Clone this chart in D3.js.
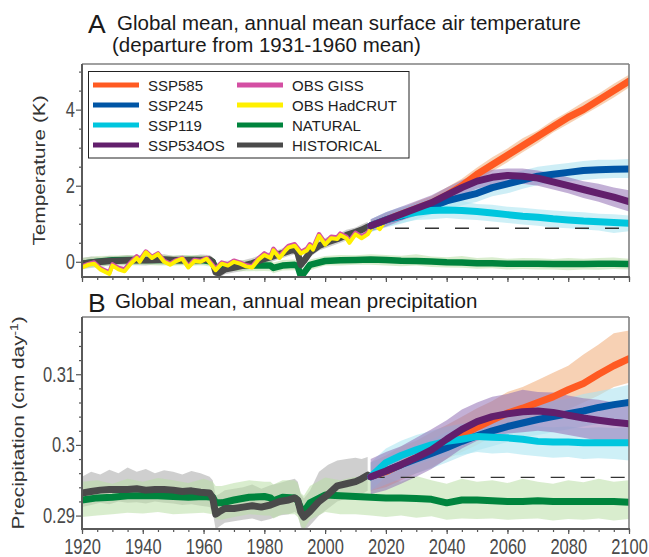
<!DOCTYPE html>
<html>
<head>
<meta charset="utf-8">
<title>Global mean temperature and precipitation</title>
<script src="https://d3js.org/d3.v7.min.js"></script>
<style>
body { margin: 0; background: white; font-family: "Liberation Sans", Arial, sans-serif; }
</style>
</head>
<body>
<script>
// ---- years ----
var histYears = [1920,1923,1926,1929,1932,1935,1938,1941,1944,1947,1950,1953,1956,1959,1962,
  1963,1964,1965,1967,1970,1973,1976,1979,1982,1985,1988,1990,1991,1992,1993,1995,
  1998,2001,2004,2007,2010,2012,2014];
var natYears = [1920,1925,1930,1935,1940,1945,1950,1955,1960,1963,1964,1966,1970,1975,1980,
  1982,1983,1986,1990,1991,1992,1993,1995,2000,2005,2010,
  2015,2020,2025,2030,2035,2040,2045,2050,2055,2060,2065,2070,2075,2080,2085,2090,2095,2100];
var scenYears = [2015,2020,2025,2030,2035,2040,2045,2050,2055,2060,2065,2070,2075,2080,2085,2090,2095,2100];
var obsYears = [1920,1922,1924,1926,1929,1930,1932,1934,1936,1938,1939,1941,1943,1945,1947,
  1949,1951,1953,1955,1957,1959,1961,1964,1966,1968,1970,1972,1974,1976,1978,
  1980,1982,1983,1985,1987,1988,1990,1992,1994,1995,1996,1998,2000,2002,2004,
  2005,2007,2008,2010,2012,2014,2016,2018,2019];

// ---- panel A: temperature (K) ----
var tHist   = [-0.05,-0.02,0.0,0.02,0.03,0.04,0.05,0.04,0.05,0.06,0.05,0.04,0.05,0.05,0.06,
  0.0,-0.28,-0.3,-0.2,-0.15,-0.1,-0.04,0.05,0.12,0.2,0.28,0.33,0.22,-0.08,0.02,0.25,
  0.42,0.52,0.6,0.7,0.78,0.84,0.92];
var tHistHi = [0.1,0.14,0.12,0.16,0.15,0.18,0.16,0.2,0.17,0.2,0.16,0.18,0.15,0.19,0.18,
  0.12,-0.14,-0.16,-0.06,-0.02,0.04,0.1,0.18,0.26,0.32,0.42,0.45,0.36,0.06,0.16,0.38,
  0.55,0.66,0.72,0.84,0.9,0.98,1.05];
var tHistLo = [-0.18,-0.15,-0.13,-0.1,-0.1,-0.08,-0.09,-0.1,-0.07,-0.08,-0.09,-0.08,-0.1,-0.08,-0.07,
  -0.14,-0.42,-0.44,-0.33,-0.28,-0.24,-0.17,-0.08,-0.01,0.07,0.15,0.2,0.08,-0.22,-0.12,0.12,
  0.3,0.38,0.47,0.56,0.65,0.7,0.78];
var tNat   = [-0.05,0.0,0.04,0.05,0.05,0.05,0.04,0.05,0.04,0.0,-0.18,-0.12,-0.1,-0.1,-0.1,
  -0.1,-0.16,-0.1,-0.08,-0.12,-0.38,-0.3,-0.08,0.02,0.04,0.05,
  0.06,0.05,0.03,0.02,0.01,-0.01,-0.02,-0.04,-0.04,-0.05,-0.05,-0.05,-0.06,-0.06,-0.06,-0.05,-0.05,-0.06];
var tNatHi = [0.1,0.15,0.16,0.18,0.17,0.2,0.16,0.18,0.17,0.12,-0.05,0.02,0.04,0.05,0.03,
  0.04,-0.02,0.05,0.06,0.02,-0.22,-0.15,0.06,0.15,0.18,0.17,
  0.2,0.18,0.16,0.2,0.14,0.12,0.15,0.1,0.12,0.08,0.1,0.09,0.07,0.1,0.08,0.1,0.11,0.08];
var tNatLo = [-0.2,-0.14,-0.09,-0.1,-0.08,-0.1,-0.1,-0.09,-0.1,-0.14,-0.32,-0.27,-0.24,-0.25,-0.24,
  -0.25,-0.3,-0.23,-0.22,-0.26,-0.52,-0.44,-0.22,-0.1,-0.1,-0.08,
  -0.08,-0.1,-0.12,-0.1,-0.14,-0.15,-0.16,-0.18,-0.17,-0.2,-0.19,-0.2,-0.2,-0.22,-0.2,-0.21,-0.19,-0.2];
var tHadcrut = [-0.15,-0.08,-0.05,-0.2,-0.32,-0.1,-0.2,-0.25,-0.05,0.1,0.0,0.25,0.1,0.2,0.0,
  -0.08,0.02,0.08,-0.15,0.02,0.0,0.08,-0.22,-0.05,-0.1,0.0,-0.05,-0.12,-0.15,0.05,
  0.18,0.1,0.3,0.1,0.3,0.38,0.42,0.22,0.3,0.42,0.32,0.68,0.45,0.62,0.6,
  0.7,0.62,0.5,0.72,0.62,0.72,0.98,0.86,0.98];
var tGiss = [-0.12,-0.06,-0.02,-0.17,-0.28,-0.07,-0.16,-0.2,-0.02,0.14,0.04,0.27,0.13,0.22,0.03,
  -0.05,0.04,0.1,-0.12,0.05,0.02,0.1,-0.18,-0.02,-0.07,0.03,-0.02,-0.09,-0.12,0.08,
  0.22,0.13,0.34,0.14,0.34,0.42,0.46,0.26,0.34,0.46,0.36,0.72,0.49,0.66,0.64,
  0.74,0.66,0.54,0.76,0.66,0.76,1.02,0.9,1.02];
var t585   = [0.95,1.1,1.25,1.4,1.55,1.75,2.0,2.3,2.55,2.8,3.05,3.3,3.55,3.8,4.0,4.25,4.5,4.75];
var t585Hi = [1.1,1.28,1.4,1.58,1.72,1.95,2.18,2.48,2.75,2.98,3.25,3.45,3.72,3.95,4.2,4.42,4.68,4.92];
var t585Lo = [0.8,0.95,1.1,1.25,1.4,1.6,1.85,2.12,2.38,2.62,2.88,3.12,3.4,3.62,3.85,4.08,4.32,4.58];
var t245   = [0.95,1.1,1.2,1.35,1.45,1.6,1.7,1.8,1.95,2.05,2.15,2.25,2.3,2.35,2.4,2.42,2.43,2.44];
var t245Hi = [1.12,1.3,1.42,1.55,1.68,1.82,1.95,2.05,2.18,2.3,2.4,2.5,2.55,2.6,2.65,2.68,2.68,2.7];
var t245Lo = [0.78,0.9,1.0,1.12,1.25,1.38,1.48,1.58,1.72,1.8,1.92,2.02,2.08,2.12,2.15,2.18,2.2,2.2];
var t119   = [0.95,1.1,1.22,1.3,1.35,1.36,1.35,1.32,1.28,1.24,1.2,1.17,1.13,1.1,1.07,1.05,1.03,1.01];
var t119Hi = [1.12,1.3,1.45,1.52,1.6,1.58,1.6,1.52,1.5,1.45,1.42,1.38,1.35,1.32,1.3,1.26,1.25,1.22];
var t119Lo = [0.78,0.92,1.02,1.1,1.12,1.15,1.12,1.1,1.06,1.02,0.98,0.95,0.9,0.88,0.85,0.82,0.76,0.8];
var t534   = [0.95,1.1,1.25,1.4,1.55,1.75,1.95,2.12,2.22,2.27,2.25,2.2,2.1,2.0,1.9,1.8,1.7,1.58];
var t534Hi = [1.12,1.3,1.45,1.6,1.75,1.95,2.15,2.32,2.42,2.45,2.45,2.4,2.32,2.22,2.12,2.05,1.95,1.88];
var t534Lo = [0.8,0.92,1.08,1.22,1.38,1.55,1.75,1.92,2.02,2.08,2.05,2.0,1.9,1.8,1.68,1.58,1.45,1.32];
var tRef = 0.88;

// ---- panel B: precipitation (cm/day) ----
var pHist   = [0.2932,0.2934,0.2936,0.2937,0.2937,0.2937,0.2938,0.2936,0.2937,0.2937,0.2936,0.2934,0.2935,0.2933,0.2932,
  0.2925,0.2902,0.2905,0.2910,0.2910,0.2912,0.2914,0.2912,0.2915,0.2920,0.2922,0.2925,0.2922,0.2905,0.2898,0.2906,
  0.2920,0.2930,0.2942,0.2945,0.2948,0.2952,0.2957];
var pHistHi = [0.2955,0.2962,0.2958,0.2965,0.2960,0.2968,0.2962,0.2966,0.2960,0.2964,0.2962,0.2958,0.2963,0.2960,0.2955,
  0.2950,0.2928,0.2930,0.2936,0.2938,0.2940,0.2944,0.2938,0.2943,0.2946,0.2950,0.2952,0.2948,0.2930,0.2924,0.2935,
  0.2962,0.2972,0.2978,0.2980,0.2982,0.2980,0.2983];
var pHistLo = [0.2912,0.2915,0.2918,0.2916,0.2920,0.2918,0.2919,0.2917,0.2920,0.2918,0.2917,0.2915,0.2916,0.2914,0.2912,
  0.2905,0.2880,0.2884,0.2890,0.2892,0.2894,0.2896,0.2892,0.2895,0.2900,0.2902,0.2905,0.2902,0.2884,0.2878,0.2886,
  0.2900,0.2910,0.2920,0.2924,0.2926,0.2930,0.2935];
var pNat   = [0.2922,0.2925,0.2926,0.2928,0.2928,0.2928,0.2927,0.2926,0.2927,0.2926,0.2918,0.2918,0.2922,0.2926,0.2927,
  0.2925,0.2921,0.2926,0.2925,0.2921,0.2910,0.2905,0.2918,0.2929,0.2928,0.2927,
  0.2926,0.2925,0.2925,0.2924,0.2923,0.2918,0.2922,0.2922,0.2921,0.2920,0.2920,0.2921,0.2920,0.2920,0.2920,0.2920,0.2920,0.2919];
var pNatHi = [0.2948,0.2950,0.2945,0.2952,0.2948,0.2953,0.2950,0.2946,0.2952,0.2948,0.2942,0.2942,0.2946,0.2950,0.2948,
  0.2948,0.2944,0.2950,0.2950,0.2946,0.2932,0.2928,0.2942,0.2954,0.2950,0.2955,
  0.2950,0.2954,0.2948,0.2956,0.2950,0.2945,0.2952,0.2948,0.2950,0.2946,0.2952,0.2948,0.2945,0.2950,0.2947,0.2952,0.2948,0.2950];
var pNatLo = [0.2898,0.2900,0.2902,0.2904,0.2903,0.2905,0.2902,0.2903,0.2904,0.2902,0.2895,0.2894,0.2898,0.2902,0.2900,
  0.2900,0.2896,0.2902,0.2902,0.2898,0.2886,0.2880,0.2894,0.2905,0.2902,0.2902,
  0.2900,0.2898,0.2900,0.2897,0.2899,0.2894,0.2896,0.2895,0.2896,0.2894,0.2895,0.2896,0.2893,0.2895,0.2894,0.2896,0.2893,0.2895];
var p585   = [0.2955,0.2962,0.2972,0.2982,0.2991,0.3002,0.3013,0.3025,0.3035,0.3045,0.3052,0.3060,0.3068,0.3078,0.3087,0.3100,0.3112,0.3122];
var p585Hi = [0.2975,0.2985,0.2998,0.3006,0.3018,0.3028,0.3040,0.3052,0.3062,0.3075,0.3082,0.3092,0.3102,0.3112,0.3128,0.3142,0.3158,0.3162];
var p585Lo = [0.2935,0.2940,0.2950,0.2960,0.2968,0.2980,0.2990,0.3000,0.3012,0.3020,0.3028,0.3035,0.3042,0.3050,0.3060,0.3070,0.3082,0.3088];
var p245   = [0.2955,0.2963,0.2972,0.2980,0.2988,0.2996,0.3005,0.3013,0.3020,0.3026,0.3031,0.3036,0.3040,0.3044,0.3048,0.3053,0.3057,0.3060];
var p245Hi = [0.2975,0.2982,0.2992,0.3000,0.3008,0.3018,0.3026,0.3034,0.3040,0.3048,0.3052,0.3058,0.3062,0.3066,0.3072,0.3076,0.3080,0.3085];
var p245Lo = [0.2935,0.2944,0.2952,0.2960,0.2967,0.2975,0.2984,0.2992,0.2998,0.3004,0.3010,0.3014,0.3018,0.3022,0.3026,0.3030,0.3034,0.3036];
var p119   = [0.2955,0.2975,0.2985,0.2993,0.3000,0.3005,0.3008,0.3012,0.3011,0.3010,0.3008,0.3005,0.3004,0.3004,0.3003,0.3003,0.3003,0.3003];
var p119Hi = [0.2975,0.2995,0.3006,0.3014,0.3020,0.3026,0.3030,0.3032,0.3033,0.3030,0.3030,0.3026,0.3025,0.3026,0.3024,0.3025,0.3024,0.3025];
var p119Lo = [0.2935,0.2955,0.2964,0.2972,0.2979,0.2984,0.2986,0.2990,0.2988,0.2989,0.2986,0.2984,0.2982,0.2983,0.2980,0.2981,0.2980,0.2978];
var p534   = [0.2955,0.2963,0.2972,0.2982,0.2993,0.3008,0.3022,0.3033,0.3040,0.3044,0.3047,0.3048,0.3046,0.3042,0.3038,0.3035,0.3032,0.3030];
var p534Hi = [0.2980,0.2990,0.2998,0.3010,0.3022,0.3035,0.3050,0.3060,0.3068,0.3072,0.3078,0.3075,0.3074,0.3070,0.3066,0.3064,0.3060,0.3058];
var p534Lo = [0.2930,0.2936,0.2945,0.2955,0.2966,0.2980,0.2995,0.3006,0.3012,0.3016,0.3018,0.3020,0.3018,0.3014,0.3010,0.3006,0.3004,0.3002];
var pRef = 0.2954;

// ---- ticks ----
var xMajor = [1920,1940,1960,1980,2000,2020,2040,2060,2080,2100];
var xMinor = d3.range(1920, 2101, 5);
var tMajor = [0, 2, 4];
var tMinor = [0.5,1,1.5,2.5,3,3.5,4.5,5];
var pMajor = [0.29, 0.30, 0.31];
var pMinor = [0.292,0.294,0.296,0.298,0.302,0.304,0.306,0.308,0.312,0.314,0.316];
var pLabels = {0.29: "0.29", 0.3: "0.3", 0.31: "0.31"};

// ---- colours ----
var col = {
  ssp585: "#ff5a22", ssp245: "#0055a5", ssp119: "#00c6de", ssp534: "#621f6c",
  giss: "#d44fa3", hadcrut: "#fff000", nat: "#00843d", hist: "#4a4a4a"
};

var width = 649, height = 557;
var left = 82, right = 629;

var svg = d3.select("body").append("svg")
  .attr("width", width).attr("height", height);

var x = d3.scaleLinear().domain([1920, 2100]).range([left, right]);

function zip(years, a, b) {
  return years.map(function(yr, i) { return b ? [yr, a[i], b[i]] : [yr, a[i]]; });
}

function drawPanel(p) {
  var y = d3.scaleLinear().domain(p.yDomain).range([p.bottom, p.top]);
  var g = svg.append("g");

  svg.append("clipPath").attr("id", "clip" + p.id)
    .append("rect").attr("x", left).attr("y", p.top)
    .attr("width", right - left).attr("height", p.bottom - p.top);
  var plot = g.append("g").attr("clip-path", "url(#clip" + p.id + ")");

  var area = d3.area().x(function(d) { return x(d[0]); })
    .y0(function(d) { return y(d[1]); }).y1(function(d) { return y(d[2]); });
  var line = d3.line().x(function(d) { return x(d[0]); }).y(function(d) { return y(d[1]); });

  p.bands.forEach(function(b) {
    plot.append("path").datum(zip(b.years, b.lo, b.hi))
      .attr("d", area).attr("fill", b.color).attr("fill-opacity", b.opacity);
  });

  plot.append("line")
    .attr("x1", x(p.refStart)).attr("x2", x(2100))
    .attr("y1", y(p.ref)).attr("y2", y(p.ref))
    .attr("stroke", "#333").attr("stroke-width", 1.4).attr("stroke-dasharray", "14,16");

  p.lines.forEach(function(l) {
    plot.append("path").datum(zip(l.years, l.vals))
      .attr("d", line).attr("fill", "none").attr("stroke", l.color)
      .attr("stroke-width", l.w).attr("stroke-linejoin", "round").attr("stroke-linecap", "round");
  });

  // frame
  g.append("line").attr("x1", left).attr("x2", right).attr("y1", p.top).attr("y2", p.top)
    .attr("stroke", "#808080").attr("stroke-width", 1.6);
  g.append("line").attr("x1", right).attr("x2", right).attr("y1", p.top).attr("y2", p.bottom)
    .attr("stroke", "#808080").attr("stroke-width", 1.6);

  // y axis
  var yMinorAx = g.append("g").attr("transform", "translate(" + left + ",0)")
    .call(d3.axisLeft(y).tickValues(p.yMinor).tickSize(3).tickFormat(""));
  var yMajorAx = g.append("g").attr("transform", "translate(" + left + ",0)")
    .call(d3.axisLeft(y).tickValues(p.yMajor).tickSize(6).tickPadding(1).tickFormat(p.yFormat));
  [yMinorAx, yMajorAx].forEach(function(a) {
    a.select(".domain").remove();
    a.selectAll("line").attr("stroke", "#555").attr("stroke-width", 1.2);
  });
  yMajorAx.selectAll("text")
    .attr("font-size", 16.5).attr("fill", "#4a4a4a")
    .attr("font-family", "'Liberation Sans', Arial, sans-serif")
    .attr("transform", "scale(1,1.33)");

  // x axis
  var xMinorAx = g.append("g").attr("transform", "translate(0," + p.bottom + ")")
    .call(d3.axisBottom(x).tickValues(xMinor).tickSize(3).tickFormat(""));
  var xMajorAx = g.append("g").attr("transform", "translate(0," + p.bottom + ")")
    .call(d3.axisBottom(x).tickValues(xMajor).tickSize(5).tickFormat(p.xLabels ? d3.format("d") : ""));
  [xMinorAx, xMajorAx].forEach(function(a) {
    a.select(".domain").remove();
    a.selectAll("line").attr("stroke", "#555").attr("stroke-width", 1.2);
  });
  if (p.xLabels) {
    xMajorAx.selectAll("text")
      .attr("font-size", 16.5).attr("fill", "#4a4a4a")
      .attr("font-family", "'Liberation Sans', Arial, sans-serif")
      .attr("dy", null).attr("y", 18.6).attr("transform", "scale(1,1.33)");
  }

  g.append("line").attr("x1", left).attr("x2", left).attr("y1", p.top).attr("y2", p.bottom + 1)
    .attr("stroke", "#5a5a5a").attr("stroke-width", 2);
  g.append("line").attr("x1", left - 1).attr("x2", right + 1).attr("y1", p.bottom).attr("y2", p.bottom)
    .attr("stroke", "#5a5a5a").attr("stroke-width", 2);

  // y label
  var yl = svg.append("text")
    .attr("transform", "translate(" + p.yLabelX + "," + (p.top + p.bottom) / 2 + ") rotate(-90) scale(1.3,1)")
    .attr("text-anchor", "middle").attr("font-size", 16).attr("fill", "#333");
  yl.append("tspan").text(p.yLabel);
  if (p.yLabelSup) {
    yl.append("tspan").attr("font-size", 10.5).attr("baseline-shift", "super").text(p.yLabelSup);
    yl.append("tspan").text(")");
  }

  // panel letter + title
  svg.append("text").attr("x", 88).attr("y", p.letterY).attr("font-size", 26.5)
    .attr("fill", "#1a1a1a").text(p.letter);
  p.title.forEach(function(t) {
    svg.append("text").attr("x", t.x).attr("y", t.y).attr("font-size", 20.5)
      .attr("fill", "#1a1a1a").text(t.text);
  });
  return g;
}

drawPanel({
  id: "A", top: 64, bottom: 277, yDomain: [-0.4, 5.2],
  yMajor: tMajor, yMinor: tMinor, yFormat: d3.format("d"), xLabels: false,
  yLabel: "Temperature (K)", yLabelX: 45,
  letter: "A", letterY: 33,
  title: [{x: 117, y: 30, text: "Global mean, annual mean surface air temperature"},
          {x: 112, y: 52, text: "(departure from 1931-1960 mean)"}],
  ref: tRef, refStart: 2023,
  bands: [
    {years: histYears, lo: tHistLo, hi: tHistHi, color: "#a8a8a8", opacity: 0.55},
    {years: natYears, lo: tNatLo, hi: tNatHi, color: "#b9dfa6", opacity: 0.55},
    {years: scenYears, lo: t585Lo, hi: t585Hi, color: "#f3b98c", opacity: 0.65},
    {years: scenYears, lo: t245Lo, hi: t245Hi, color: "#aee3f0", opacity: 0.6},
    {years: scenYears, lo: t119Lo, hi: t119Hi, color: "#aee6f2", opacity: 0.6},
    {years: scenYears, lo: t534Lo, hi: t534Hi, color: "#9170b4", opacity: 0.55}
  ],
  lines: [
    {years: natYears, vals: tNat, color: col.nat, w: 6.5},
    {years: histYears, vals: tHist, color: col.hist, w: 6.5},
    {years: obsYears, vals: tGiss, color: col.giss, w: 4.5},
    {years: obsYears, vals: tHadcrut, color: col.hadcrut, w: 4},
    {years: scenYears, vals: t585, color: col.ssp585, w: 7},
    {years: scenYears, vals: t245, color: col.ssp245, w: 7},
    {years: scenYears, vals: t119, color: col.ssp119, w: 7},
    {years: scenYears, vals: t534, color: col.ssp534, w: 7}
  ]
});

drawPanel({
  id: "B", top: 317, bottom: 529, yDomain: [0.2881, 0.3181],
  yMajor: pMajor, yMinor: pMinor, yFormat: function(d) { return pLabels[d]; }, xLabels: true,
  yLabel: "Precipitation (cm day", yLabelSup: "-1", yLabelX: 24,
  letter: "B", letterY: 311.5,
  title: [{x: 115, y: 308, text: "Global mean, annual mean precipitation"}],
  ref: pRef, refStart: 2015,
  bands: [
    {years: histYears, lo: pHistLo, hi: pHistHi, color: "#a8a8a8", opacity: 0.55},
    {years: natYears, lo: pNatLo, hi: pNatHi, color: "#b9dfa6", opacity: 0.55},
    {years: scenYears, lo: p585Lo, hi: p585Hi, color: "#f3b98c", opacity: 0.65},
    {years: scenYears, lo: p245Lo, hi: p245Hi, color: "#aee3f0", opacity: 0.6},
    {years: scenYears, lo: p119Lo, hi: p119Hi, color: "#aee6f2", opacity: 0.6},
    {years: scenYears, lo: p534Lo, hi: p534Hi, color: "#9170b4", opacity: 0.55}
  ],
  lines: [
    {years: natYears, vals: pNat, color: col.nat, w: 7},
    {years: histYears, vals: pHist, color: col.hist, w: 7},
    {years: scenYears, vals: p585, color: col.ssp585, w: 7},
    {years: scenYears, vals: p245, color: col.ssp245, w: 7},
    {years: scenYears, vals: p119, color: col.ssp119, w: 7},
    {years: scenYears, vals: p534, color: col.ssp534, w: 7}
  ]
});

// legend (panel A)
var legendItems = [
  {name: "SSP585", color: col.ssp585}, {name: "SSP245", color: col.ssp245},
  {name: "SSP119", color: col.ssp119}, {name: "SSP534OS", color: col.ssp534},
  {name: "OBS GISS", color: col.giss}, {name: "OBS HadCRUT", color: col.hadcrut},
  {name: "NATURAL", color: col.nat}, {name: "HISTORICAL", color: col.hist}
];
var legend = svg.append("g");
legend.append("rect").attr("x", 88.5).attr("y", 71.5).attr("width", 320.5).attr("height", 86.5)
  .attr("fill", "white").attr("stroke", "#222").attr("stroke-width", 1);
legendItems.forEach(function(d, i) {
  var cx = i < 4 ? 93 : 237;
  var cy = 85 + (i % 4) * 20;
  legend.append("line").attr("x1", cx).attr("x2", cx + 46).attr("y1", cy).attr("y2", cy)
    .attr("stroke", d.color).attr("stroke-width", 5);
  legend.append("text").attr("x", cx + 55).attr("y", cy + 5.5).attr("font-size", 15)
    .attr("fill", "#222").text(d.name);
});
</script>
</body>
</html>
